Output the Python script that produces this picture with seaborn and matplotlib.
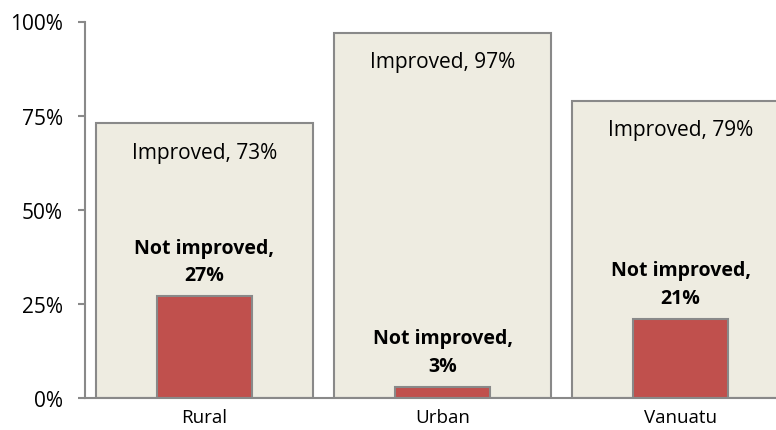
import pandas as pd
import seaborn as sns
import matplotlib.pyplot as plt
from matplotlib.ticker import PercentFormatter

# Values
areas = ["Rural", "Urban", "Vanuatu"]
improved = [73, 97, 79]
not_improved = [27, 3, 21]

data = pd.DataFrame(
    {"Area": areas, "Improved": improved, "Not improved": not_improved}
)

sns.set_style("white")
plt.rcParams["font.family"] = ["Open Sans", "DejaVu Sans"]

fig = plt.figure(figsize=(7.76, 4.31), dpi=100)
ax = fig.add_axes([85 / 776, 32 / 431, 691 / 776, 376.5 / 431])

edge = "#898989"
# Wide background bars for the improved share
sns.barplot(
    data=data, x="Area", y="Improved", color="#EEECE1",
    width=0.91, edgecolor=edge, linewidth=1.5, saturation=1, ax=ax,
)
# Narrow red bars for the not improved share
sns.barplot(
    data=data, x="Area", y="Not improved", color="#C0504D",
    width=0.4, edgecolor=edge, linewidth=1.5, saturation=1, ax=ax,
)

for i, (imp, bad) in enumerate(zip(improved, not_improved)):
    ax.annotate(
        f"Improved, {imp}%", (i, imp), xytext=(0, -21), textcoords="offset points",
        ha="center", va="center", fontsize=15, color="black",
    )
    ax.annotate(
        f"Not improved,\n{bad}%", (i, bad), xytext=(0, 8), textcoords="offset points",
        ha="center", va="bottom", fontsize=14, fontweight="bold",
        linespacing=1.5, color="black",
    )

ax.set_ylim(0, 100)
ax.set_xlim(-0.502, 2.401)
ax.set_yticks([0, 25, 50, 75, 100])
ax.yaxis.set_major_formatter(PercentFormatter(decimals=0))
ax.set_xlabel("")
ax.set_ylabel("")

for side in ["top", "right"]:
    ax.spines[side].set_visible(False)
for side in ["left", "bottom"]:
    ax.spines[side].set_color(edge)
    ax.spines[side].set_linewidth(1.5)

ax.tick_params(axis="y", left=True, length=5, width=1.5, color=edge,
               pad=11, labelsize=15, labelcolor="black")
ax.tick_params(axis="x", bottom=False, pad=4, labelsize=13.5, labelcolor="black")

plt.savefig("out.png", dpi=100)
